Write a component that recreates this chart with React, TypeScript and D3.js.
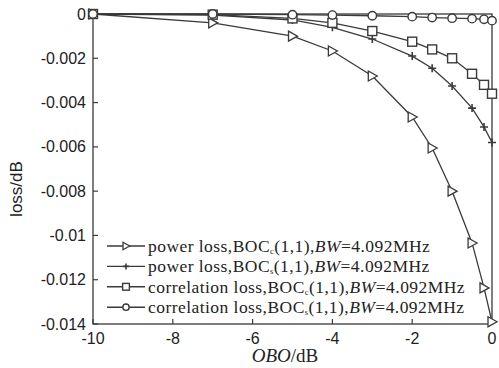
import React, { useRef, useEffect } from 'react';
import * as d3 from 'd3';

const obo = [-10, -7, -5, -4, -3, -2, -1.5, -1, -0.5, -0.2, 0];
const powerLossC = [0, -0.0004, -0.001, -0.00167, -0.0028, -0.00465, -0.00605, -0.008, -0.01034, -0.01237, -0.0139];
const powerLossS = [0, -0.00005, -0.00027, -0.0006, -0.00113, -0.0019, -0.00245, -0.00325, -0.00425, -0.0051, -0.0058];
const corrLossC = [0, -0.00003, -0.0002, -0.0004, -0.00077, -0.00125, -0.0016, -0.002, -0.0027, -0.0032, -0.0036];
const corrLossS = [0, 0, -0.00003, -0.00005, -0.00008, -0.00012, -0.00016, -0.00019, -0.00021, -0.00024, -0.0003];
const xTicks = [-10, -8, -6, -4, -2, 0];
const yTicks = [0, -0.002, -0.004, -0.006, -0.008, -0.01, -0.012, -0.014];
const legendNames = ['power loss,BOC', 'power loss,BOC', 'correlation loss,BOC', 'correlation loss,BOC'];
const legendSubs = ['c', 's', 'c', 's'];
const markers = ['tri', 'plus', 'square', 'circle'];

const App = () => {
  const ref = useRef<SVGSVGElement>(null);

  useEffect(() => {
    const svg = d3.select(ref.current);
    svg.selectAll('*').remove();
    const ink = '#3a3a3a';
    const left = 93, right = 492, top = 14, bottom = 324;

    const x = d3.scaleLinear().domain([-10, 0]).range([left, right]);
    const y = d3.scaleLinear().domain([-0.014, 0]).range([bottom, top]);

    const series = [powerLossC, powerLossS, corrLossC, corrLossS];

    // s = marker scale (plot markers 1, legend markers smaller)
    const drawMarker = (g, kind, cx, cy, s = 1) => {
      if (kind === 'tri') {
        g.append('path')
          .attr('d', `M${cx - 4 * s},${cy - 5 * s}L${cx + 5 * s},${cy}L${cx - 4 * s},${cy + 5 * s}Z`)
          .attr('fill', 'white').attr('stroke', ink).attr('stroke-width', 1.3);
      } else if (kind === 'plus') {
        g.append('path')
          .attr('d', `M${cx - 4 * s},${cy}H${cx + 4 * s}M${cx},${cy - 4 * s}V${cy + 4 * s}`)
          .attr('stroke', ink).attr('stroke-width', 1.6);
      } else if (kind === 'square') {
        g.append('rect')
          .attr('x', cx - 4.5 * s).attr('y', cy - 4.5 * s).attr('width', 9 * s).attr('height', 9 * s)
          .attr('fill', 'white').attr('stroke', ink).attr('stroke-width', 1.4);
      } else {
        g.append('circle')
          .attr('cx', cx).attr('cy', cy).attr('r', 4.2 * s)
          .attr('fill', 'white').attr('stroke', ink).attr('stroke-width', 1.4);
      }
    };

    // frame
    svg.append('rect')
      .attr('x', left).attr('y', top).attr('width', right - left).attr('height', bottom - top)
      .attr('fill', 'none').attr('stroke', ink).attr('stroke-width', 1.3);

    // ticks (inward)
    const axisFont = 'Liberation Sans, Arial, sans-serif';
    xTicks.forEach(t => {
      svg.append('line').attr('x1', x(t)).attr('x2', x(t)).attr('y1', bottom).attr('y2', bottom - 5)
        .attr('stroke', ink).attr('stroke-width', 1.2);
      svg.append('text').attr('x', x(t)).attr('y', 344).attr('text-anchor', 'middle')
        .style('font-family', axisFont).style('font-size', '16px').attr('fill', '#222')
        .text(t === 0 ? '0' : String(t));
    });
    yTicks.forEach(t => {
      svg.append('line').attr('x1', left).attr('x2', left + 5).attr('y1', y(t)).attr('y2', y(t))
        .attr('stroke', ink).attr('stroke-width', 1.2);
      svg.append('text').attr('x', 86).attr('y', y(t)).attr('dy', '0.35em').attr('text-anchor', 'end')
        .style('font-family', axisFont).style('font-size', '16px').attr('fill', '#222')
        .text(t === 0 ? '0' : String(t));
    });

    // lines and markers
    const line = d3.line<number>().x((d, i) => x(obo[i])).y(d => y(d));
    series.forEach((s, k) => {
      const g = svg.append('g');
      g.append('path').attr('d', line(s)).attr('fill', 'none').attr('stroke', ink).attr('stroke-width', 1.3);
      s.forEach((v, i) => drawMarker(g, markers[k], x(obo[i]), y(v)));
    });

    // axis titles
    svg.append('text')
      .attr('transform', `translate(22,189) rotate(-90)`)
      .attr('text-anchor', 'middle')
      .style('font-family', axisFont).style('font-size', '17px').attr('fill', '#222')
      .text('loss/dB');

    const xl = svg.append('text').attr('x', 285).attr('y', 362).attr('text-anchor', 'middle')
      .style('font-family', 'Liberation Serif, Times New Roman, serif').style('font-size', '19px').attr('fill', '#222');
    xl.append('tspan').style('font-style', 'italic').text('OBO');
    xl.append('tspan').text('/dB');

    // legend
    const serif = 'Liberation Serif, Times New Roman, serif';
    legendNames.forEach((name, i) => {
      const ly = 246 + i * 20.4;
      const g = svg.append('g');
      g.append('line').attr('x1', 107).attr('x2', 145).attr('y1', ly).attr('y2', ly)
        .attr('stroke', ink).attr('stroke-width', 1.4);
      drawMarker(g, markers[i], 126, ly, 0.75);
      const t = g.append('text').attr('x', 148).attr('y', ly + 6)
        .style('font-family', serif).style('font-size', '17.5px').style('letter-spacing', '0.45px').attr('fill', '#222');
      t.append('tspan').text(name);
      t.append('tspan').attr('dy', 2).style('font-size', '8.5px').text(legendSubs[i]);
      t.append('tspan').attr('dy', -2).text('(1,1),');
      t.append('tspan').style('font-style', 'italic').text('BW');
      t.append('tspan').text('=4.092MHz');
    });
  }, []);

  return <svg ref={ref} width={499} height={368} style={{ display: 'block', position: 'absolute', left: 0, top: 0, background: 'white' }} />;
};

export default App;
